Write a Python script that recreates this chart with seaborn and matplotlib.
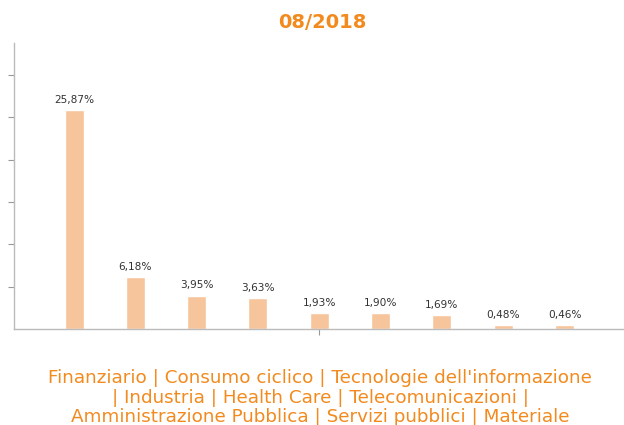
import matplotlib
matplotlib.use("Agg")
import matplotlib.pyplot as plt
import seaborn as sns
import pandas as pd

# Sector weights (%) for 08/2018
sectors = ["Finanziario", "Consumo ciclico", "Tecnologie dell'informazione",
           "Industria", "Health Care", "Telecomunicazioni",
           "Amministrazione Pubblica", "Servizi pubblici", "Materiale"]
weights = [25.87, 6.18, 3.95, 3.63, 1.93, 1.90, 1.69, 0.48, 0.46]
labels = ["25,87%", "6,18%", "3,95%", "3,63%", "1,93%", "1,90%", "1,69%", "0,48%", "0,46%"]

df = pd.DataFrame({"sector": sectors, "weight": weights})

sns.set_style("white")
plt.rcParams['font.family'] = ['DejaVu Sans']

fig = plt.figure(figsize=(6.24, 4.25), dpi=100)
ax = fig.add_axes([0.0224, 0.226, 0.9776, 0.673])

orange = "#F28A1E"
sns.barplot(data=df, x="sector", y="weight", color="#F7C59C", saturation=1,
            width=0.31, ax=ax)

for i, (v, lab) in enumerate(zip(weights, labels)):
    ax.text(i, v + 0.6, lab, ha="center", va="bottom", fontsize=7.6, color="#333333")

ax.set_xlim(-0.98, 8.97)
ax.set_ylim(0, 33.8)
ax.set_yticks([5, 10, 15, 20, 25, 30])
ax.set_yticklabels([])
ax.set_xticks([4])
ax.set_xticklabels([])
ax.set_xlabel("")
ax.set_ylabel("")
ax.tick_params(axis="both", length=4, color="#999999", width=0.8, direction="out")
ax.tick_params(axis="y", left=True)
ax.tick_params(axis="x", bottom=True)
for side in ["top", "right"]:
    ax.spines[side].set_visible(False)
for side in ["left", "bottom"]:
    ax.spines[side].set_color("#BBBBBB")
    ax.spines[side].set_linewidth(1)

fig.text(0.516, 0.948, "08/2018", ha="center", va="center", fontsize=14,
         fontweight="bold", color=orange)

footer = ("Finanziario | Consumo ciclico | Tecnologie dell'informazione\n"
          "| Industria | Health Care | Telecomunicazioni |\n"
          "Amministrazione Pubblica | Servizi pubblici | Materiale")
fig.text(0.513, 0.064, footer, ha="center", va="center", fontsize=13.2,
         color=orange, linespacing=1.1)

fig.savefig("out.png", dpi=100)
